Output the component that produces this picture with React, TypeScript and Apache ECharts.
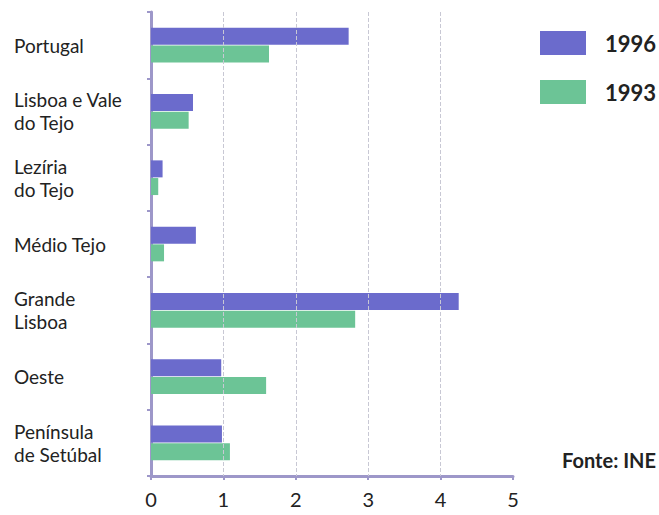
import React, { useEffect, useRef } from "react";
import * as echarts from "echarts";

const categories = [
  "Portugal",
  "Lisboa e Vale\ndo Tejo",
  "Lezíria\ndo Tejo",
  "Médio Tejo",
  "Grande\nLisboa",
  "Oeste",
  "Península\nde Setúbal",
];
const values1996 = [2.73, 0.58, 0.16, 0.62, 4.25, 0.97, 0.98];
const values1993 = [1.63, 0.52, 0.1, 0.18, 2.82, 1.59, 1.09];
const gridValues = [1, 2, 3, 4];
const xTicks = [0, 1, 2, 3, 4, 5];

const FONT = "Lato, 'Open Sans', sans-serif";

export default function App() {
  const ref = useRef<HTMLDivElement>(null);
  useEffect(() => {
    if (!ref.current) return;
    const chart = echarts.init(ref.current, null, { renderer: "svg" });
    chart.setOption({
      animation: false,
      backgroundColor: "#ffffff",
      textStyle: { fontFamily: FONT },
      grid: { left: 151, right: 146, top: 12, bottom: 39, containLabel: false },
      legend: {
        orient: "vertical",
        left: 540,
        top: 31,
        padding: 0,
        itemWidth: 46,
        itemHeight: 24,
        itemGap: 25,
        icon: "rect",
        data: ["1996", "1993"],
        textStyle: { fontSize: 22, fontWeight: "bold", color: "#222", fontFamily: FONT, padding: [0, 0, 0, 14] },
      },
      xAxis: {
        type: "value",
        min: 0,
        max: 5,
        interval: 1,
        axisLine: { show: true, lineStyle: { color: "#9d97c9", width: 3 } },
        axisTick: { show: true, length: 4, lineStyle: { color: "#9d97c9", width: 2 } },
        splitLine: { show: false },
        axisLabel: {
          margin: 13,
          fontSize: 20,
          lineHeight: 20,
          color: "#222",
          fontFamily: FONT,
          formatter: (v: number) => (xTicks.includes(v) ? String(v) : ""),
        },
      },
      yAxis: {
        type: "category",
        inverse: true,
        data: categories,
        axisLine: { show: true, lineStyle: { color: "#9d97c9", width: 3 } },
        axisTick: { show: true, length: 4, lineStyle: { color: "#9d97c9", width: 2 } },
        axisLabel: {
          align: "left",
          margin: 137,
          fontSize: 19,
          lineHeight: 23,
          color: "#222",
          fontFamily: FONT,
        },
      },
      series: [
        {
          name: "1996",
          type: "bar",
          data: values1996,
          barWidth: 17,
          barGap: "4%",
          itemStyle: { color: "#6b6bcc" },
          markLine: {
            silent: true,
            symbol: "none",
            label: { show: false },
            lineStyle: { color: "#c8c8d4", type: "dashed", width: 1 },
            data: gridValues.map((v) => ({ xAxis: v })),
          },
        },
        {
          name: "1993",
          type: "bar",
          data: values1993,
          barWidth: 17,
          barGap: "4%",
          itemStyle: { color: "#6cc496" },
        },
      ],
      graphic: [
        {
          type: "text",
          right: 3,
          top: 450,
          style: { text: "Fonte: INE", fontSize: 20, fontWeight: "bold", fill: "#222", fontFamily: FONT },
        },
      ],
    });
    return () => chart.dispose();
  }, []);
  return <div ref={ref} style={{ width: 659, height: 515, position: "absolute", left: 0, top: 0 }} />;
}
